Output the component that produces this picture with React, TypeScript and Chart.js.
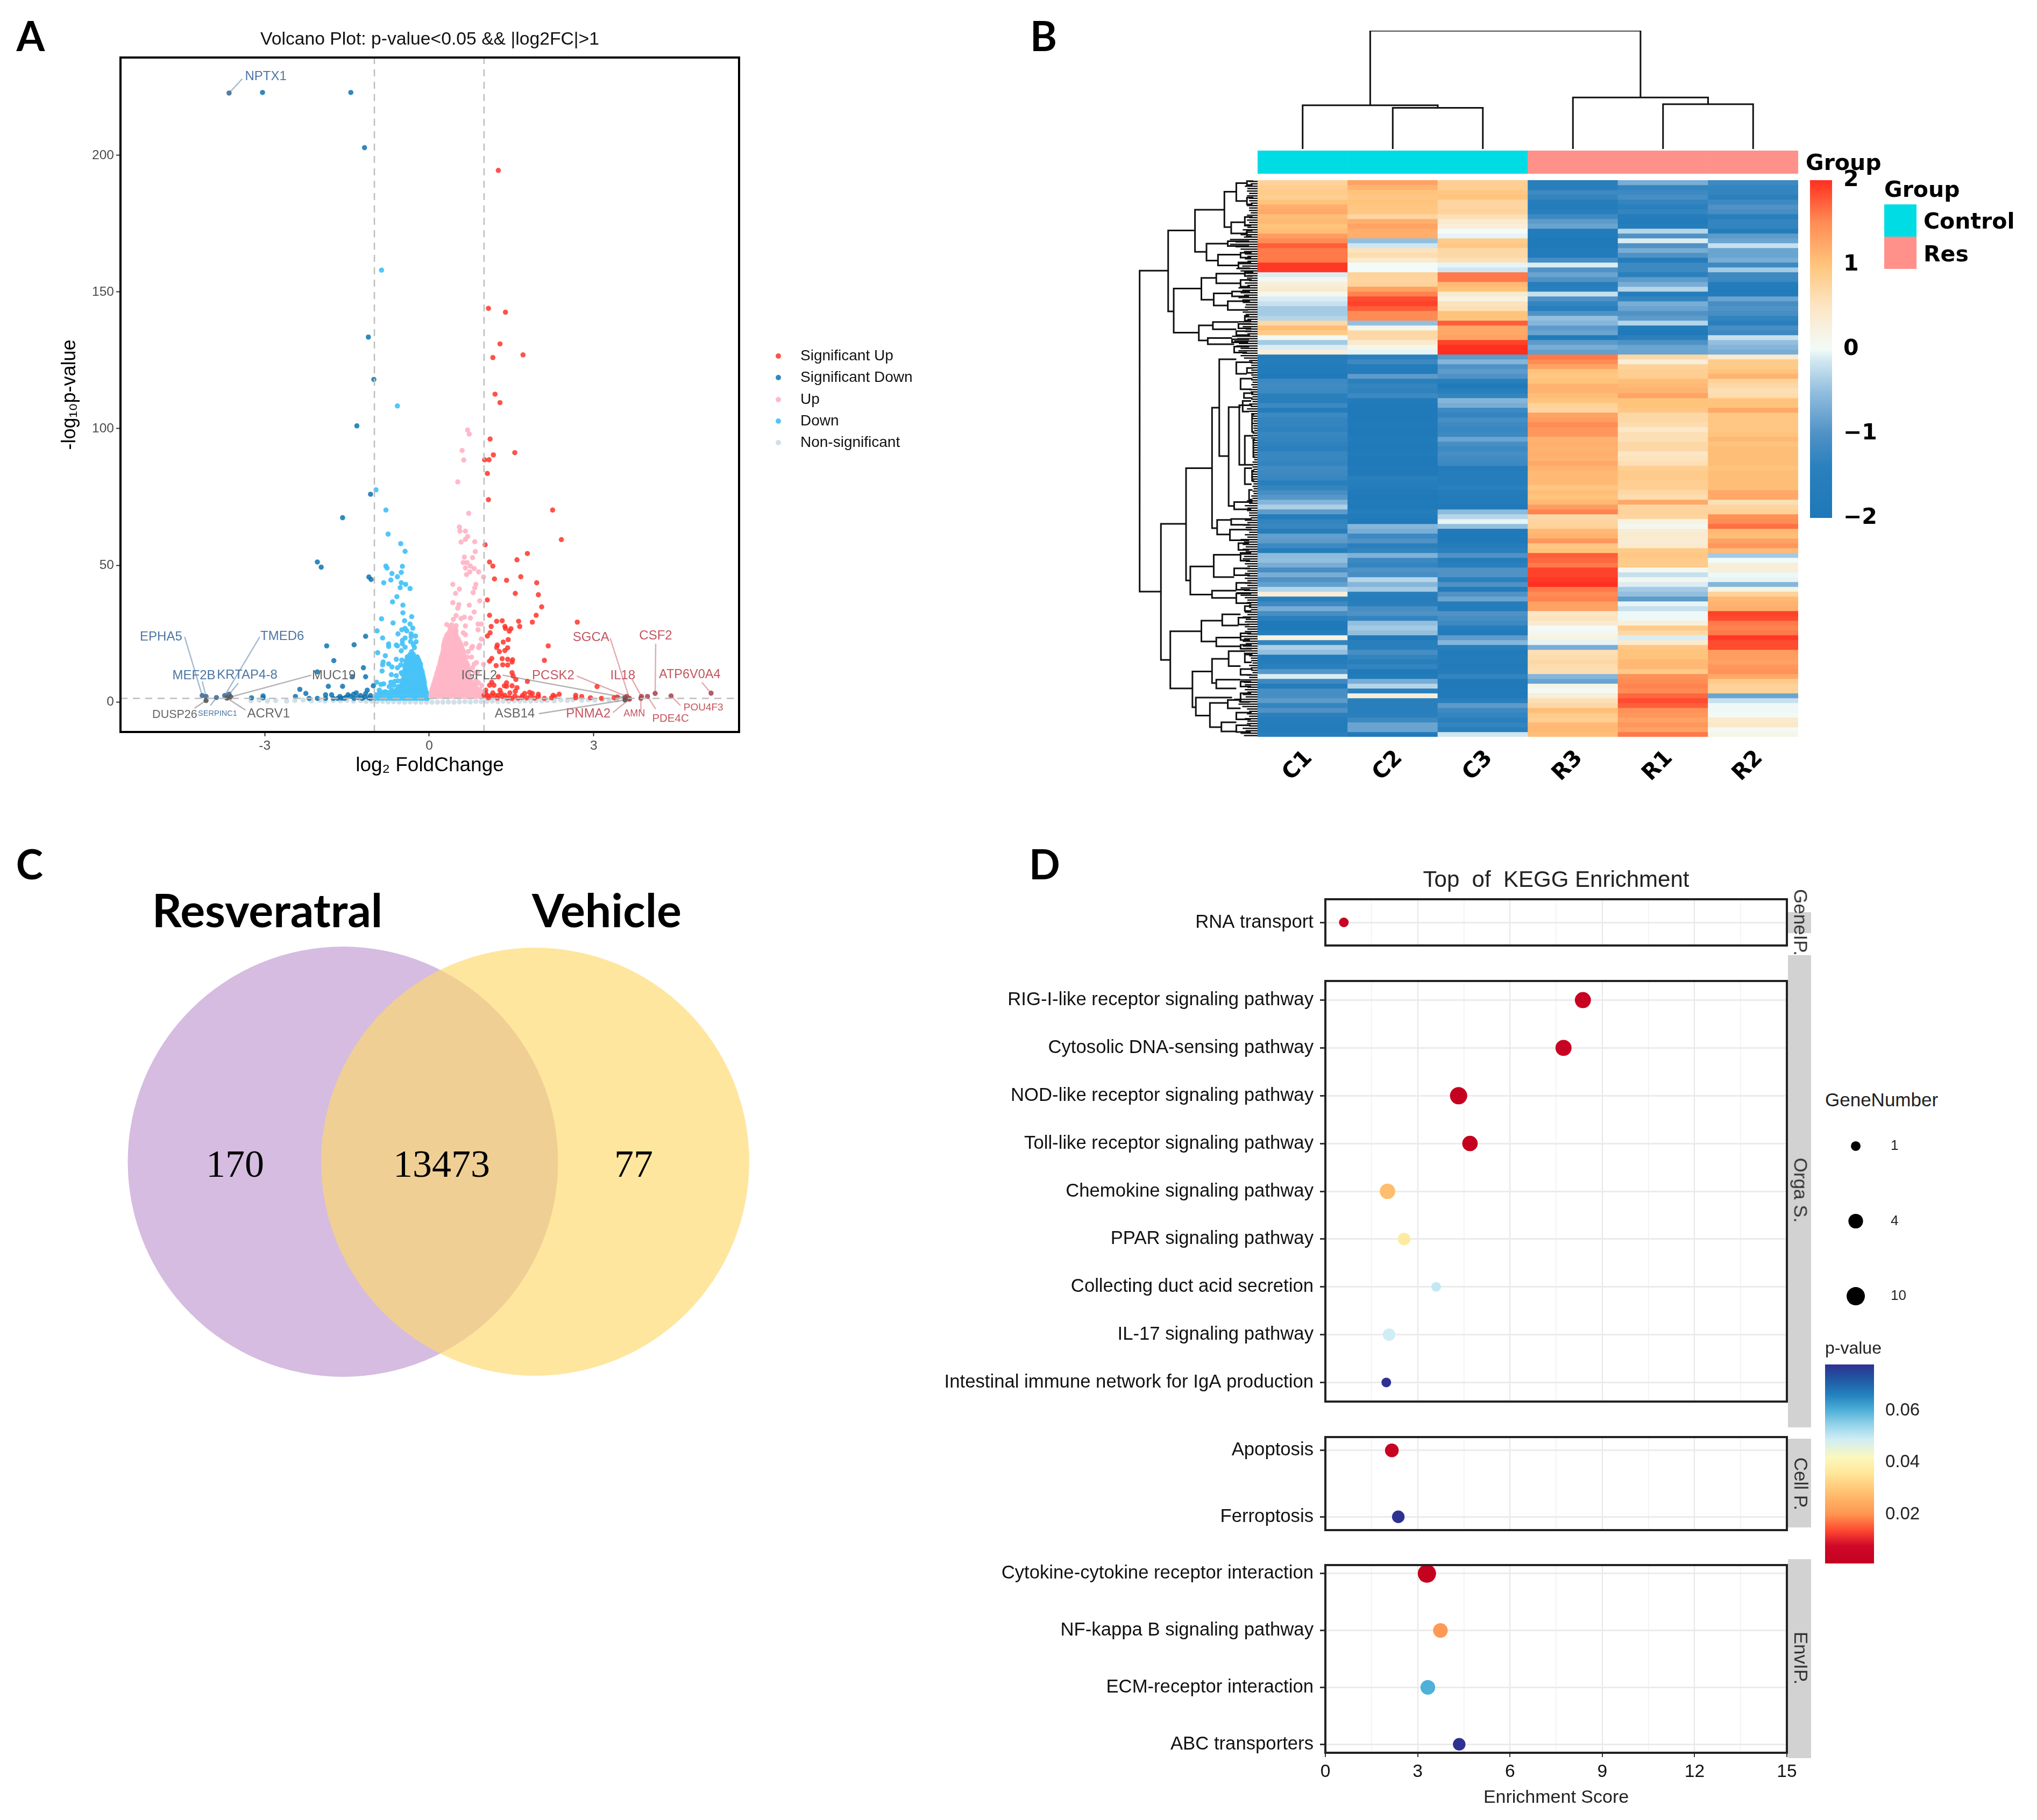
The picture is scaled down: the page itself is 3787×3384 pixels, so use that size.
import React, { useEffect, useRef } from "react";
import { Chart, registerables } from "chart.js";
Chart.register(...registerables);

const SANS = "'Liberation Sans', Arial, sans-serif";
const DEJA = "'DejaVu Sans', sans-serif";

/* ---------- Panel A: volcano ---------- */
const volcanoXTicks = [-3, 0, 3];
const volcanoYTicks = [0, 50, 100, 150, 200];
const sigDown = [[-3.04,223],[-1.43,223],[-1.18,202.8],[-1.11,133.5],[-1.01,118],[-1.32,101],[-1.07,76],[-1.58,67.4],[-2.04,51.2],[-1.97,49.3],[-1.10,45.7],[-1.06,44.8],[-1.16,24],[-1.37,20.9],[-1.87,20.5],[-1.74,15.1],[-2.04,11],[-1.2,12.5],[-1.16,9.2],[-1.84,5.7],[-1.58,5.7],[-1.4,9.2],[-2.36,4.6],[-2.25,3.1],[-2.44,2],[-3.24,1.5],[-3.03,2.2],[-3.03,1.5],[-2.19,1.3],[-2.04,1.3],[-1.89,2.6],[-1.89,1.3],[-1.78,2.6],[-1.75,1.3],[-1.63,2],[-1.48,2.6],[-1.38,2.8],[-1.33,3.3],[-1.25,2.3],[-1.13,4.3],[-1.16,3],[-1.07,2.3],[-1.02,5.9],[-1.55,1.3],[-1.37,1.3],[-1.22,1.3],[-1.07,1.3],[-1.67,1.3],[-1.44,2],[-1.3,1.6],[-1.18,1.8],[-1.1,1.5],[-1.52,1.7],[-1.6,1.4]];
const down = [[-.87,158],[-.58,108.3],[-.97,77.6],[-.79,70.2],[-.75,61.4],[-.52,57.9],[-.44,55.1],[-.79,49.7],[-.77,49],[-.49,49.6],[-.51,47.4],[-.68,47],[-.58,45.8],[-.70,44.6],[-.83,43.6],[-.51,43.6],[-.43,43],[-.53,41.8],[-.35,41.5],[-.59,38.5],[-.67,36.6],[-.48,35.4],[-.48,32.6],[-.32,31.2],[-.87,30.4],[-.45,29.7],[-.66,28.9],[-.35,28.5],[-.30,27],[-.44,26.9],[-.50,26.4],[-.41,26],[-.95,26],[-.57,24.9],[-.33,24.9],[-.25,24.1],[-.33,23.8],[-.85,23.4],[-.44,23.4],[-.49,22.5],[-.34,22.1],[-.24,22],[-.74,21.2],[-.60,20.8],[-.58,20.5],[-.49,21.3],[-.29,21],[-.74,20.3],[-.44,20],[-.27,19.9],[-.51,18.7],[-.94,18],[-.32,18.4],[-.80,16.9],[-.35,17.4],[-.29,17.4],[-.60,15.6],[-.50,15.3],[-.84,14.6],[-.85,13.6],[-.74,13.9],[-.52,13.5],[-.68,12.8],[-.58,12.5],[-.86,11.3],[-.51,10.7],[-.60,9.6],[-.69,10],[-.49,10.2],[-.96,7.2],[-.70,7.2],[-.63,7.5],[-.57,7.7],[-.49,7.9],[-.42,7.9],[-.88,6.4],[-.83,6.6],[-.73,5.6],[-.65,6.1],[-.57,5.6],[-.50,5.9],[-.91,4.3],[-.80,3.7],[-.68,4.3],[-.60,4.3],[-.52,4.6]];
const downCoreRows = [
  [16.5,[-.40,-.34,-.28,-.22]],[15.9,[-.39,-.33,-.27,-.21]],[15.2,[-.42,-.36,-.30,-.24,-.19]],[14.5,[-.41,-.35,-.29,-.23,-.18]],[13.9,[-.43,-.37,-.31,-.25,-.19,-.16]],[13,[-.44,-.40,-.34,-.28,-.22,-.16]],
  [12.2,[-.44,-.38,-.32,-.26,-.20,-.15]],[11.2,[-.45,-.41,-.35,-.29,-.23,-.17,-.13]],[10.2,[-.45,-.39,-.33,-.27,-.21,-.15,-.12]],[9.2,[-.46,-.42,-.36,-.30,-.24,-.18,-.12,-.11]],[8.3,[-.46,-.40,-.34,-.28,-.22,-.16,-.10]],[7.3,[-.48,-.43,-.37,-.31,-.25,-.19,-.13,-.09]],
  [6.4,[-.50,-.44,-.38,-.32,-.26,-.20,-.14,-.09]],[5.4,[-.52,-.47,-.41,-.35,-.29,-.23,-.17,-.11,-.08]],[4.5,[-.54,-.48,-.42,-.36,-.30,-.24,-.18,-.12,-.07]],[3.5,[-.90,-.84,-.78,-.72,-.66,-.60,-.54,-.48,-.42,-.36,-.30,-.24,-.18,-.12,-.07,-.05]],
  [2.6,[-.97,-.90,-.83,-.76,-.70,-.64,-.58,-.52,-.46,-.40,-.34,-.28,-.22,-.16,-.10,-.05]],
  [1.3,[-.99,-.92,-.85,-.78,-.71,-.65,-.59,-.53,-.47,-.41,-.35,-.29,-.23,-.17,-.11,-.06,-.03]],
];
const up = [[.66,59.5],[.83,58.6],[.84,55],[.64,53],[.79,52.8],[.62,51],[.69,51],[.75,49.7],[.66,49],[.82,48.8],[.90,47.6],[.74,47.6],[.68,46.6],[.99,45.7],[.43,43],[.85,43],[.83,41.7],[.55,41.3],[.48,39.7],[.80,40],[.92,37],[.43,36.3],[.54,35.6],[.73,35.4],[.52,34.3],[.82,32.9],[.49,31.6],[.64,31],[.58,30.5],[.75,30.7],[.44,30.2],[.32,28.3],[.41,28.2],[.66,27.8],[.89,28.5],[.95,28.5],[.49,27.9],[.38,27.2],[.48,26.2],[.89,26.4],[.62,25.3],[.66,24.6],[.32,24.3],[.95,23],[.41,24.3],[.67,21.3],[.79,20.3],[.92,20.7],[.77,19.7],[.90,19.9],[.57,20.7],[.62,18.6],[.71,18.4],[.77,16.4],[.69,16.4],[.99,13.8],[.86,14.4],[.82,13.8],[.79,12.5],[.88,11],[.84,10.7],[.72,11.8],[.70,99.5],[.73,98],[.60,92],[.63,88.5],[.52,80.5],[.72,69],[.55,64],[.56,62.5],[.66,62.5],[.70,60.5],[.58,58.5],[.96,6],[.90,7],[.82,6.5],[.92,4.5],[.85,8]];
const upCoreRows = [
  [26.6,[.40,.44,.48]],[25.7,[.37,.41,.46,.49]],[24.9,[.34,.39,.44,.48]],[24,[.32,.36,.41,.46,.50]],[23,[.29,.34,.39,.44,.49,.53]],[22.1,[.28,.32,.37,.42,.47,.52,.55]],[21.3,[.27,.32,.37,.42,.47,.52,.57]],[20.3,[.26,.30,.35,.40,.45,.50,.55,.59]],
  [19.4,[.26,.31,.36,.41,.46,.51,.56,.60]],[18.4,[.25,.29,.34,.39,.44,.49,.54,.59,.62]],[17.4,[.24,.29,.34,.39,.44,.49,.54,.59,.63]],[16.4,[.22,.27,.32,.37,.42,.47,.52,.57,.62]],[15.4,[.21,.26,.31,.36,.41,.46,.51,.56,.61,.65]],[14.4,[.20,.25,.30,.35,.40,.45,.50,.55,.60,.65,.68]],
  [13.5,[.19,.24,.29,.34,.39,.44,.49,.54,.59,.64,.70]],[12.5,[.17,.23,.29,.35,.41,.47,.53,.59,.65,.70]],[11.5,[.16,.22,.28,.34,.40,.46,.52,.58,.64,.71]],[10.5,[.14,.20,.26,.32,.38,.44,.50,.56,.62,.68,.72]],
  [9.5,[.13,.19,.25,.31,.37,.43,.49,.55,.61,.67,.73]],[8.5,[.11,.17,.23,.29,.35,.41,.47,.53,.59,.65,.71,.75]],[7.5,[.10,.16,.22,.28,.34,.40,.46,.52,.58,.64,.70,.76]],[6.5,[.08,.14,.20,.26,.32,.38,.44,.50,.56,.62,.68,.74,.79]],
  [5.6,[.07,.13,.19,.25,.31,.37,.43,.49,.55,.61,.67,.73,.79,.85]],[4.6,[.05,.11,.17,.23,.29,.35,.41,.47,.53,.59,.65,.71,.77,.83,.88]],[3.6,[.04,.10,.16,.22,.28,.34,.40,.46,.52,.58,.64,.70,.76,.82,.88,.94,.97]],[2.8,[.04,.07,.13,.19,.25,.31,.37,.43,.49,.55,.61,.67,.73,.79,.85,.91,.97]],
  [2,[.03,.09,.15,.21,.27,.33,.39,.45,.51,.57,.63,.69,.75,.81,.87,.93,.98]],
];
const sigUp = [[1.26,194.5],[1.08,144],[1.39,142.6],[1.29,131],[1.71,127],[1.16,126],[1.2,112.6],[1.29,109.5],[1.11,96.2],[1.17,90.4],[1.56,91.2],[1.01,88.6],[1.09,88.6],[1.06,83.6],[1.08,74],[2.25,70.2],[2.41,59.4],[1.02,57.5],[1.79,54.3],[1.60,52],[1.10,51.2],[1.16,49.7],[1.67,45.8],[1.19,45],[1.41,44.5],[1.96,43.6],[1.57,39.7],[1.99,39.2],[1.06,37.3],[2.05,34.8],[1.95,31.7],[1.10,31.7],[1.23,29.5],[1.33,29.7],[1.63,29.5],[1.88,29.2],[1.13,27.6],[1.65,27.6],[1.38,27.6],[1.39,26.9],[1.49,26.8],[1.46,25.9],[1.11,25.3],[1.06,24.1],[2.70,29.2],[1.44,22.8],[1.35,21.9],[1.24,20.8],[2.17,20.5],[1.23,19.9],[1.43,19.8],[1.38,18.8],[1.28,18.4],[1.14,15.9],[1.10,14.9],[1.33,15.8],[1.43,15.6],[1.52,15.4],[1.51,14.6],[2.10,15.2],[1.22,13.3],[1.34,13.6],[1.43,13.5],[1.51,10.7],[1.53,9.5],[1.26,9.2],[1.58,8.2],[1.79,7.5],[1.14,7.2],[1.41,7],[3.06,5.6],[1.10,6.1],[1.18,6.1],[1.37,5.9],[1.41,5.7],[1.51,5.9],[1.60,5.2],[1.03,4.3],[1.29,4.3],[1.47,3.3],[1.57,3.9],[1.83,3.5],[1.99,2.8],[2.37,2.8],[2.26,2.4],[1.88,3.1],[1.0,2.4],[1.06,2.3],[1.13,2.3],[1.2,2.3],[1.26,2.4],[1.33,2],[1.46,1.6],[1.51,1.3],[1.69,1.6],[1.70,2.3],[1.74,3.1],[1.85,2],[1.99,2],[2.10,1.3],[2.23,1.5],[2.29,2],[2.67,2.4],[2.67,1.5],[2.78,2],[2.94,1.5],[3.14,1.3],[3.37,1.5],[3.43,1.8],[1.03,3.2],[1.08,1.5],[1.16,3.3],[1.24,1.4],[1.31,3.2],[1.38,2.4],[1.42,1.4],[1.56,2.2],[1.62,1.4],[1.78,1.5],[1.92,1.4]];
const nonSig = [[-3.25,.4],[-3.1,.6],[-2.95,.3],[-2.8,.5],[-2.6,.3],[-2.45,.5],[-2.3,.7],[-2.15,.4],[-2,.6],[-1.9,.3],[-1.75,.5],[-1.62,.4],[-1.5,.6],[-1.38,.3],[-1.25,.5],[-1.15,.2],[-1.05,.3],[-.95,.1],[-.85,.2],[-.75,0],[-.65,.1],[-.55,0],[-.45,-.1],[-.35,0],[-.25,-.1],[-.15,-.1],[-.05,-.1],[.05,-.1],[.15,-.1],[.25,-.1],[.35,0],[.45,-.1],[.55,0],[.65,.1],[.75,0],[.85,.2],[.95,.1],[1.05,.2],[1.15,.3],[1.25,.2],[1.35,.3],[1.45,.2],[1.55,.4],[1.65,.3],[1.75,.4],[1.85,.3],[1.95,.5],[2.05,.4],[2.15,.5],[2.28,.4],[2.4,.7],[2.52,.5],[2.62,.8],[2.78,.6],[2.9,.8],[3.02,.6],[3.16,.9],[3.28,.7],[3.42,.8]];
const B = "#4C76A3", R = "#C4555F", G = "#666666";
const geneLabels = [
  { t:"NPTX1", c:B, s:24, x:-2.98, y:228.8, sx:-3.41, sy:228, px:-3.65, py:222.8 },
  { t:"EPHA5", c:B, s:24, x:-4.89, y:23.8, sx:-4.46, sy:23.8, px:-4.14, py:2.3 },
  { t:"TMED6", c:B, s:24, x:-2.68, y:24, sx:-3.09, sy:23.8, px:-3.73, py:2.3 },
  { t:"MEF2B", c:B, s:24, x:-4.29, y:9.6, sx:-4.14, sy:7.5, px:-4.07, py:2 },
  { t:"KRTAP4-8", c:B, s:24, x:-3.32, y:9.8, sx:-3.48, sy:6.9, px:-3.65, py:2.8 },
  { t:"SERPINC1", c:B, s:14.6, x:-3.86, y:-4.4, sx:-3.99, sy:-1.3, px:-3.88, py:1.6 },
  { t:"DUSP26", c:G, s:21.5, x:-4.64, y:-4.8, sx:-4.28, sy:-2.3, px:-4.07, py:.5 },
  { t:"ACRV1", c:G, s:24, x:-2.93, y:-4.4, sx:-3.35, sy:-3, px:-3.69, py:1.4 },
  { t:"MUC19", c:G, s:24, x:-1.74, y:9.6, sx:-2.15, sy:9.8, px:-3.62, py:1.8 },
  { t:"IGFL2", c:G, s:24, x:.91, y:9.6, sx:1.34, sy:9.8, px:3.57, py:1.6 },
  { t:"ASB14", c:G, s:24, x:1.56, y:-4.4, sx:2, sy:-4.3, px:3.57, py:.7 },
  { t:"PCSK2", c:R, s:24, x:2.26, y:9.5, sx:2.69, sy:9.5, px:3.6, py:2 },
  { t:"SGCA", c:R, s:24, x:2.95, y:23.6, sx:3.3, sy:23.3, px:3.65, py:1.3 },
  { t:"CSF2", c:R, s:24, x:4.13, y:24.1, sx:4.13, sy:21.3, px:4.12, py:3.1 },
  { t:"IL18", c:R, s:24, x:3.53, y:9.5, sx:3.7, sy:8.2, px:3.87, py:2 },
  { t:"ATP6V0A4", c:R, s:23.5, x:4.75, y:10, sx:4.97, sy:7.2, px:5.14, py:3.2 },
  { t:"PNMA2", c:R, s:24, x:2.9, y:-4.4, sx:3.35, sy:-3.9, px:3.65, py:1 },
  { t:"AMN", c:R, s:18, x:3.74, y:-4.3, sx:3.86, sy:-3.3, px:3.86, py:1.3 },
  { t:"PDE4C", c:R, s:20.5, x:4.4, y:-6.1, sx:4.13, sy:-2.6, px:3.98, py:2 },
  { t:"POU4F3", c:R, s:19, x:5.0, y:-2, sx:4.58, sy:-1.3, px:4.41, py:2.2 },
];
const volcanoLegend = ["Significant Up", "Significant Down", "Up", "Down", "Non-significant"];
const volcanoColors = ["rgba(255,52,42,0.85)", "rgba(15,115,175,0.85)", "rgba(255,182,198,0.95)", "rgba(72,195,248,0.95)", "rgba(205,220,228,0.9)"];

/* ---------- Panel B: heatmap ---------- */
const sampleLabels = ["C1", "C2", "C3", "R3", "R1", "R2"];
const sampleGroups = ["Control", "Control", "Control", "Res", "Res", "Res"];
const groupColors = { Control: "#00DCE3", Res: "#FF918A" };
const C1 = [.8,.85,.9,.85,1,1.2,1.25,1.05,1.1,1,1.05,1.35,1.5,1.75,1.6,1.6,1.6,1.95,1.95,-.1,.1,.3,.4,.1,-.1,-.2,-.4,-.4,-.3,.7,1.05,.9,.05,-.4,-.1,.3,
  -1.8,-1.6,-1.8,-1.8,
  -1.9,-1.2,-1.15,-1.2,-1.4,-1.45,-1.2,-1.7,-1.2,-1.3,-1.3,-1.35,-1.25,-1.3,-1.35,-1.4,-1.25,-1.25,-1.3,-1.15,-1.2,-1.25,-1.5,-1.3,-1.1,-.95,-.6,-.35,-.9,-1.7,-1.3,-1.25,-1.6,-.85,-.9,-1.2,-1.6,-.55,
  -.5,-.7,-1.1,-.7,-1,-.85,-.3,.3,-1.5,-1.2,-.7,-1.1,-1.4,-1.9,-1.9,-1.6,.2,-1.3,-.35,-.5,-1.8,-1.6,-1.4,-.95,-.1,-1.2,-1.7,-1.1,-1.1,-.9,-1.3,-1,-1.4,-1.6,-1.7,-1.7,-1.5];
const C2 = [1.3,1.15,1,.95,1,.95,.95,.75,1.2,1.3,1.2,1.2,-.5,-.15,.55,.65,.4,0,0,.8,.75,.8,1.3,1.55,1.85,1.9,1.75,1.5,1.5,-.5,.1,.7,.7,.4,.15,-.05,
  -1.4,-1.2,-1.7,-1.7,
  -.9,-1.4,-1.3,-1.35,-1.2,-1.8,-1.9,-1.9,-1.9,-1.9,-1.85,-1.9,-1.9,-1.8,-1.85,-1.9,-1.8,-1.9,-1.9,-1.85,-1.9,-1.5,-1.55,-1.7,-1.85,-1.9,-1.85,-1.9,-1.6,-1.8,-1.9,-.6,-.7,-1.2,-1,-1.4,-1.3,-.65,
  -1.2,-1.3,-1,-1.1,-.3,-.6,-.4,-1.5,-1.6,-1.5,-1.1,-1,-1.3,-.5,-.4,-.5,-1.9,-1.5,-1.5,-1.1,-1.3,-1.5,-1.3,-1.9,-1.8,-.7,-.3,-1.4,.3,-1.5,-1.5,-1.5,-1.4,-1.2,-.8,-.8,-1.85];
const C3 = [.85,.85,.95,1,.75,.75,.8,.6,.4,.3,0,-.05,.9,.95,.7,.7,.6,-.05,-.15,1.6,1.6,1.1,1,.4,.2,.55,.6,1,1,1.75,1.25,1.25,1.3,1.9,2,2,
  -.9,-.6,-1,-.9,
  -1,-1.5,-1.9,-1.5,-1.3,-.6,-.7,-1.2,-1.3,-1.1,-1.2,-1.25,-1.2,-.8,-1.1,-1.2,-1.1,-1.15,-1.2,-1.7,-1.6,-1.6,-1.6,-1.4,-1.7,-1.75,-1.8,-1.9,-.55,-.3,-.05,-.5,-1.9,-1.9,-1.9,-1.6,-1.4,-1,
  -1.7,-1.4,-1,-1,-1.4,-1,-1.7,-1,-.8,-1.6,-1.7,-1,-1.1,-1.2,-1.6,-1.8,-.9,-.6,-1.5,-1.8,-1.7,-1.7,-1.8,-1.7,-1.3,-1.9,-1.9,-1.85,-1.85,-1.4,-.9,-1.2,-1.3,-1.4,-1.3,-1.5,-.15];
const R3 = [-1.5,-1.5,-1.2,-1.3,-1.6,-1.7,-1.5,-1.2,-.9,-.8,-1.8,-1.8,-1.9,-1.9,-1.8,-1.8,-1.1,-.1,-1,-.8,-1,-1.6,-1.4,-.2,-1,-1.3,-1.5,-1,-.5,-.6,-.9,-.8,-1.8,-.9,-.7,-.85,
  1.6,1.5,1.3,1,
  .95,1,1.15,1.15,1.05,1,.8,.75,1.3,1.35,1.5,1.4,1.4,1.15,1.2,1.15,1.2,1.15,1.25,1.15,1.1,1.1,1.1,.95,1.05,1,1.1,1.35,1.55,.7,.75,.8,1.1,1.15,1.4,.95,1,1.75,
  1.7,1.6,1.9,1.9,1.95,2,1.6,1.5,1.55,1.3,1.3,.5,.55,.4,0,.1,.2,-.05,-.7,.6,.65,.7,.65,.6,-.6,-.8,.15,.05,.3,.6,.7,1.05,.9,.85,1.1,1.1,1.05];
const R1 = [-.7,-1.3,-1.2,-1.1,-1.3,-1.4,-1.3,-1.6,-1.8,-1.6,-.3,-1,-.1,-1,-.7,-1,-1.7,-1.2,-1.2,-1.4,-.9,-.7,-.3,-1.6,-1.3,-.7,-.8,-1,-.9,-.3,-1.8,-1.9,-1.4,-1,-.8,-.8,
  .7,.3,.8,.85,
  .85,1.05,1.1,1.15,1.3,1,1,.95,.7,.7,.65,.45,.6,.6,.7,.7,.5,.55,.6,.85,.9,.9,.85,.85,.7,.65,1.25,.75,.8,.75,.2,.1,.35,.4,.35,.4,.9,.95,
  .9,.9,.1,-.2,.1,-.1,-.4,-.5,-.9,-.05,-.2,-.02,-.02,.3,.9,.7,-.1,.4,.95,1,1,1.1,1.1,.9,1.45,1.5,1.55,1.5,1.7,1.85,1.75,1.45,1.4,1.3,1.4,1.3,1.6];
const R2 = [-1.2,-1.3,-1.3,-1.4,-1.2,-1,-1.1,-1.5,-1.3,-1.3,-1.7,-.9,-.8,-.2,-.8,-.8,-.7,-1.2,-.4,-1.2,-1.2,-1.7,-1.8,-1.7,-.8,-1.1,-1,-1.1,-1.3,-1.5,-1.1,-1.2,-.2,-.5,-.6,-.7,
  .4,.9,.9,1,
  1.15,.8,.7,.6,.65,1,1,1.25,.95,.95,.95,.95,1,1.1,1,1.05,1.05,1.05,1.05,1,1.05,1.05,1.05,1.05,1.25,1.25,.6,.75,.8,1.45,1.5,1.65,1.1,1.05,1.3,1.4,1.1,-.4,
  0,.3,.3,-.02,-.05,-.6,.2,.8,1.1,1.15,1.2,1.9,1.85,1.6,1.55,1.6,1.95,1.85,1.85,1.35,1.35,1.3,1.4,1.45,1.25,.9,.8,.8,-.8,-.2,-.02,-.02,.05,.4,.45,.05,.15];
const heatColumns = [C1, C2, C3, R3, R1, R2];
const heatStops = [[-2,"#1E78B8"],[-1.4,"#2A80BD"],[-1,"#4F92C6"],[-.5,"#93BFDF"],[-.15,"#CFE6F0"],[0,"#F2FBF8"],[.5,"#FCE6C4"],[1,"#FFC47C"],[1.5,"#FF8C54"],[2,"#FF2F20"]];
const heatTicks = [-2, -1, 0, 1, 2];
const colTree = [[.5,0,2,80,85],[1.5,0,2.5,0,80],[3.5,0,5,87,100],[4.5,0,5.5,0,87],[1.25,85,4.25,100,230]];
/* row dendrogram: [rowA, childHeightA, rowB, childHeightB, height] */
const rowTree = [
  [18.7,210,85,227,277],[10.4,147,27.1,197,210],[6.1,78,14.8,120,147],[2.4,50,9.7,62,78],[.6,25,4.3,25,50],[8.7,30,11,25,62],[13.1,70,16.6,93,120],[12.6,20,13.6,20,70],[15.4,40,17.6,45,93],
  [22.4,132,31.5,138,197],[20.2,97,24.7,103,132],[19.3,30,21.3,40,97],[23.4,60,25.9,70,103],[30,105,33.1,117,138],[29.3,45,30.8,50,105],[32.6,60,33.9,55,117],
  [71,168,99.1,205,227],[59.5,107,82.7,158,168],[47,90,71.9,95,107],[37,50,57,68,90],[46.9,40,67.3,55,68],[70.2,62,73.2,65,95],[79.8,103,85.6,107,158],[77.4,40,82,55,103],[84.8,50,86.3,50,107],
  [93.2,132,105,153,205],[91,83,95.3,97,132],[89.7,40,92,45,83],[94.5,40,96.3,40,97],[101.5,107,108.9,145,153],[98.9,68,103.9,97,107],[97.3,30,100.4,40,68],[103.2,40,105,50,97],[106.9,60,110.6,112,145],[108,70,113,85,112],[107.4,40,109.1,40,70],[112,50,113.9,50,85],
  [.2,10,1,12,25],[3.6,10,5,12,25],[7.6,12,9.4,15,30],[10.4,12,11.6,14,25],[15,14,16,15,40],[17,15,18.2,18,45],[19,10,19.8,12,30],[20.6,14,22,18,40],[23,18,24,20,60],[25,18,26.8,22,70],[28,20,29,15,30],[29.7,15,30.6,15,45],[31.2,15,32,18,50],[32.9,20,33.5,22,60],[34.4,20,35.6,25,55],
  [37.6,12,40,25,50],[38.8,10,39.8,10,25],[41,12,43.2,14,40],[44,10,45,12,32],[45.6,15,47.8,20,35],[46.5,13,58.8,30,43],[48.4,8,52,8,13],[52.8,10,58.8,10,30],[53.6,6,57.2,6,10],[59.5,13,62.8,14,30],[60,8,62.1,8,13],[64,12,66,12,20],[66.5,12,68,15,55],[70,14,71.2,18,62],[72.2,14,74.4,20,65],[75,20,76.4,20,45],
  [77,15,78.6,18,40],[80.2,18,81.6,18,55],[83.2,15,84.6,18,50],[85.4,15,87.4,15,50],[88,15,89,15,30],[90.4,16,91.8,20,45],[93.6,15,95,18,40],[96,14,96.8,14,40],[98,12,99.6,14,30],[101,12,102.2,14,40],[103.6,15,104.6,15,40],[106,15,107.8,18,40],[110,14,111.4,16,50],[112.6,16,114,16,50],
];
const leafReach = [20,30,25,25,20,25,20,25,25,30,35,40,65,65,40,30,30,45,50,30,25,30,45,40,45,35,30,35,30,45,35,30,60,55,50,45,40,20,15,15,15,15,15,20,15,15,20,25,15,12,12,10,12,15,10,10,10,10,12,12,15,15,12,12,12,15,25,30,25,20,30,35,25,30,40,35,35,40,35,30,30,30,30,30,40,50,30,25,20,30,35,30,30,30,40,35,35,40,20,15,20,15,25,40,30,30,35,55,45,25,25,30,25,35,40];

/* ---------- Panel C: Venn ---------- */
const vennSets = ["Resveratral", "Vehicle"];
const vennCounts = [170, 13473, 77];

/* ---------- Panel D: KEGG ---------- */
const keggXTicks = [0, 1.5, 3, 4.5, 6, 7.5, 9, 10.5, 12, 13.5, 15];
const geneIPTerms = ["RNA transport"];
const geneIPScore = [0.6]; const geneIPP = [0.004]; const geneIPCount = [1];
const orgaTerms = ["RIG-I-like receptor signaling pathway","Cytosolic DNA-sensing pathway","NOD-like receptor signaling pathway","Toll-like receptor signaling pathway","Chemokine signaling pathway","PPAR signaling pathway","Collecting duct acid secretion","IL-17 signaling pathway","Intestinal immune network for IgA production"];
const orgaScore = [8.37,7.74,4.33,4.7,2.02,2.56,3.6,2.07,1.98];
const orgaP = [.003,.003,.002,.002,.028,.037,.05,.049,.078];
const orgaCount = [6,6,8,5,5,2,1,2,1];
const cellTerms = ["Apoptosis","Ferroptosis"];
const cellScore = [2.16,2.37]; const cellP = [.003,.078]; const cellCount = [3,2];
const envTerms = ["Cytokine-cytokine receptor interaction","NF-kappa B signaling pathway","ECM-receptor interaction","ABC transporters"];
const envScore = [3.3,3.74,3.33,4.35]; const envP = [.002,.021,.06,.078]; const envCount = [10,4,4,2];
const legendGenes = [1, 4, 10];
const pTicks = [0.02, 0.04, 0.06];
const pStops = [[.0012,"#C4001F"],[.008,"#D0082A"],[.014,"#FF4A30"],[.02,"#FF9450"],[.028,"#FFBE6E"],[.036,"#FFE79A"],[.042,"#FBF8BC"],[.049,"#CFEDF5"],[.055,"#8ED0E8"],[.06,"#4FB0D8"],[.066,"#2381BE"],[.072,"#2058A4"],[.0777,"#2E3192"]];

/* ---------- helpers ---------- */
function hex(c) { return [parseInt(c.slice(1,3),16), parseInt(c.slice(3,5),16), parseInt(c.slice(5,7),16)]; }
function cmap(stops, v) {
  if (v <= stops[0][0]) return stops[0][1];
  for (let i = 1; i < stops.length; i++) {
    if (v <= stops[i][0]) {
      const t = (v - stops[i-1][0]) / (stops[i][0] - stops[i-1][0]);
      const a = hex(stops[i-1][1]), b = hex(stops[i][1]);
      return `rgb(${a.map((p, k) => Math.round(p + (b[k]-p)*t)).join(",")})`;
    }
  }
  return stops[stops.length-1][1];
}
const pts = (a) => a.map(([x, y]) => ({ x, y }));
const rows = (r) => r.flatMap(([y, xs]) => xs.map((x) => ({ x, y })));
const geneRadius = (g) => 9 + 8 * Math.sqrt((g - 1) / 9);
const base = { responsive: false, devicePixelRatio: 1, animation: false, events: [] };
const noPlug = { legend: { display: false }, tooltip: { enabled: false } };

function layoutOf(rect, plot, yW = 0, xH = 0, titleH = 0) {
  return { autoPadding: false, padding: {
    left: plot.l - rect.x - yW, right: rect.x + rect.w - plot.r,
    top: plot.t - rect.y - titleH, bottom: rect.y + rect.h - plot.b - xH } };
}
const boxPlugin = (color, width) => ({
  id: "panelBox",
  afterDatasetsDraw(chart) {
    const { ctx, chartArea: a } = chart;
    ctx.save(); ctx.strokeStyle = color; ctx.lineWidth = width;
    ctx.strokeRect(a.left, a.top, a.right - a.left, a.bottom - a.top); ctx.restore();
  },
});
const gradient = (stops, min, max) => (c) => {
  const a = c.chart.chartArea; if (!a) return "#ccc";
  const g = c.chart.ctx.createLinearGradient(0, a.bottom, 0, a.top);
  stops.forEach(([v, col]) => g.addColorStop((v - min) / (max - min), col));
  return g;
};

/* ---------- chart configs ---------- */
const aRect = { x: 100, y: 40, w: 1660, h: 1440 };
const aPlot = { l: 224, t: 107, r: 1374, b: 1361 };
const AX = { min: -5.63, max: 5.65 }, AY = { min: -11, max: 235.8 };
const dash = (data) => ({ data, showLine: true, pointRadius: 0, borderColor: "#BDBDBD", borderWidth: 2.5, borderDash: [13, 10], label: "" });
const dot = (label, i, data) => ({ label, data, showLine: false, pointRadius: 4.8, pointBorderWidth: 0, pointBackgroundColor: volcanoColors[i], backgroundColor: volcanoColors[i] });
const volcanoLabels = {
  id: "volcanoLabels",
  afterDatasetsDraw(chart) {
    const { ctx, scales: { x, y } } = chart;
    ctx.save();
    geneLabels.forEach((g) => {
      ctx.globalAlpha = 0.5; ctx.strokeStyle = g.c; ctx.lineWidth = 2.4;
      ctx.beginPath(); ctx.moveTo(x.getPixelForValue(g.sx), y.getPixelForValue(g.sy));
      ctx.lineTo(x.getPixelForValue(g.px), y.getPixelForValue(g.py)); ctx.stroke();
      ctx.globalAlpha = 1; ctx.fillStyle = g.c; ctx.font = `${g.s}px ${SANS}`;
      ctx.textAlign = "center"; ctx.textBaseline = "middle";
      ctx.fillText(g.t, x.getPixelForValue(g.x), y.getPixelForValue(g.y));
    });
    const ys = [662, 702, 743, 783, 823];
    volcanoLegend.forEach((t, i) => {
      ctx.fillStyle = volcanoColors[i];
      ctx.beginPath(); ctx.arc(1447 - aRect.x, ys[i] - aRect.y, 5, 0, Math.PI * 2); ctx.fill();
      ctx.fillStyle = "#111"; ctx.font = `28px ${SANS}`; ctx.textAlign = "left"; ctx.textBaseline = "middle";
      ctx.fillText(t, 1488 - aRect.x, ys[i] - aRect.y);
    });
    ctx.restore();
  },
};
const volcanoConfig = {
  type: "scatter",
  data: { datasets: [
    dash([{ x: -1, y: AY.min }, { x: -1, y: AY.max }]),
    dash([{ x: 1, y: AY.min }, { x: 1, y: AY.max }]),
    dash([{ x: AX.min, y: 1.3 }, { x: AX.max, y: 1.3 }]),
    { label: "", data: geneLabels.map((g) => ({ x: g.px, y: g.py })), showLine: false, pointRadius: 4.8, pointBorderWidth: 0, pointBackgroundColor: geneLabels.map((g) => g.c === R ? "rgba(165,65,75,0.85)" : g.c === B ? "rgba(70,110,150,0.9)" : "rgba(85,85,85,0.9)") },
    dot(volcanoLegend[0], 0, pts(sigUp)),
    dot(volcanoLegend[1], 1, pts(sigDown)),
    dot(volcanoLegend[2], 2, [...pts(up), ...rows(upCoreRows)]),
    dot(volcanoLegend[3], 3, [...pts(down), ...rows(downCoreRows)]),
    dot(volcanoLegend[4], 4, pts(nonSig)),
  ] },
  plugins: [boxPlugin("#000", 4), volcanoLabels],
  options: { ...base, layout: layoutOf(aRect, aPlot, 116, 87, 54),
    plugins: { ...noPlug, title: { display: true, fullSize: false, text: "Volcano Plot: p-value<0.05 && |log2FC|>1", color: "#111", font: { family: SANS, size: 33.7, weight: "normal" }, padding: { top: 0, bottom: 13.5 } } },
    scales: {
      x: { type: "linear", ...AX, afterBuildTicks: (s) => { s.ticks = volcanoXTicks.map((value) => ({ value })); }, afterFit: (s) => { s.height = 87; },
        grid: { drawOnChartArea: false, tickLength: 8, tickColor: "#333", tickWidth: 2 }, border: { display: false },
        ticks: { color: "#4D4D4D", font: { family: SANS, size: 24.5 }, padding: 4, maxRotation: 0, autoSkip: false },
        title: { display: true, text: "log₂ FoldChange", color: "#000", font: { family: SANS, size: 37 }, padding: { top: 0, bottom: 2 } } },
      y: { type: "linear", ...AY, afterBuildTicks: (s) => { s.ticks = volcanoYTicks.map((value) => ({ value })); }, afterFit: (s) => { s.width = 116; },
        grid: { drawOnChartArea: false, tickLength: 8, tickColor: "#333", tickWidth: 2 }, border: { display: false },
        ticks: { color: "#4D4D4D", font: { family: SANS, size: 24.5 }, padding: 4, autoSkip: false },
        title: { display: true, text: "-log₁₀p-value", color: "#000", font: { family: SANS, size: 36 }, padding: { top: 0, bottom: 0 } } },
    } },
};

const HL = 2338, HR = 3343;
const colTreeRect = { x: HL, y: 50, w: HR - HL, h: 232 };
const colTreeConfig = {
  type: "scatter",
  data: { datasets: [{ data: colTree.flatMap(([a, ha, b, hb, h]) => [{ x: a, y: ha }, { x: a, y: h }, { x: b, y: h }, { x: b, y: hb }, { x: NaN, y: NaN }]), showLine: true, pointRadius: 0, borderColor: "#111", borderWidth: 3, borderJoinStyle: "miter", spanGaps: false }] },
  options: { ...base, layout: layoutOf(colTreeRect, { l: HL, r: HR, t: 57, b: 277 }), plugins: noPlug,
    scales: { x: { type: "linear", min: 0, max: 6, display: false }, y: { type: "linear", min: 0, max: 230, display: false } } },
};
const annotRect = { x: HL, y: 280, w: HR - HL, h: 43 };
const annotConfig = {
  type: "bar",
  data: { labels: sampleLabels, datasets: [{ data: sampleLabels.map(() => 1), backgroundColor: sampleGroups.map((g) => groupColors[g]), barPercentage: 1, categoryPercentage: 1 }] },
  options: { ...base, layout: { autoPadding: false }, plugins: noPlug, scales: { x: { display: false }, y: { display: false, min: 0, max: 1 } } },
};
const heatRect = { x: HL - 10, y: 330, w: HR - HL + 20, h: 1160 };
const heatConfig = {
  type: "bar",
  data: { labels: sampleLabels, datasets: C1.map((_, r) => ({ data: sampleLabels.map(() => 1), backgroundColor: heatColumns.map((col) => cmap(heatStops, col[r])), barPercentage: 1, categoryPercentage: 1, borderWidth: 0 })) },
  options: { ...base, layout: layoutOf(heatRect, { l: HL, r: HR, t: 335, b: 1370 }, 0, 100), plugins: noPlug,
    scales: {
      x: { stacked: true, afterFit: (s) => { s.height = 100; }, grid: { display: false }, border: { display: false },
        ticks: { minRotation: 45, maxRotation: 45, padding: 8, labelOffset: 12, color: "#000", font: { family: DEJA, size: 41, weight: "bold" } } },
      y: { stacked: true, display: false, reverse: true, min: 0, max: C1.length },
    } },
};
const rowTreeRect = { x: 2110, y: 335, w: HL - 2110, h: 1035 };
const rowTreeConfig = {
  type: "scatter",
  data: { datasets: [
    { data: rowTree.flatMap(([a, ha, b, hb, h]) => [{ x: ha, y: a }, { x: h, y: a }, { x: h, y: b }, { x: hb, y: b }, { x: NaN, y: NaN }]), showLine: true, pointRadius: 0, borderColor: "#111", borderWidth: 3, spanGaps: false },
    { data: leafReach.flatMap((h, i) => [{ x: h, y: i + .25 }, { x: 0, y: i + .25 }, { x: NaN, y: NaN }, { x: h * .8, y: i + .75 }, { x: 0, y: i + .75 }, { x: NaN, y: NaN }]), showLine: true, pointRadius: 0, borderColor: "#111", borderWidth: 2.6, spanGaps: false },
  ] },
  options: { ...base, layout: { autoPadding: false }, plugins: noPlug,
    scales: { x: { type: "linear", display: false, reverse: true, min: 0, max: 288 }, y: { type: "linear", display: false, reverse: true, min: 0, max: C1.length } } },
};
const heatBarRect = { x: 3365, y: 265, w: 141, h: 770 };
const heatBarConfig = {
  type: "bar",
  data: { labels: [""], datasets: [{ data: [[-2, 2]], backgroundColor: gradient(heatStops, -2, 2), barPercentage: 1, categoryPercentage: 1 }] },
  options: { ...base, layout: layoutOf(heatBarRect, { l: 3365, r: 3506, t: 335, b: 963 }), plugins: noPlug,
    scales: {
      x: { display: false },
      y: { position: "right", min: -2, max: 2, afterBuildTicks: (s) => { s.ticks = heatTicks.map((value) => ({ value })); }, afterFit: (s) => { s.width = 100; },
        grid: { display: false }, border: { display: false },
        ticks: { padding: 13, color: "#000", font: { family: DEJA, size: 41, weight: "bold" }, callback: (v) => (v < 0 ? "−" + Math.abs(v) : String(v)) } },
    } },
};

const vennRect = { x: 200, y: 1700, w: 1250, h: 920 };
const vennConfig = {
  type: "bubble",
  data: { datasets: [
    { label: vennSets[1], data: [{ x: 1, y: 0, r: 398 }], backgroundColor: "rgba(255,217,107,0.65)", borderWidth: 0, clip: false },
    { label: vennSets[0], data: [{ x: 0, y: 0, r: 400 }], backgroundColor: "#D5BCE0", borderWidth: 0, clip: false },
  ] },
  options: { ...base, layout: { autoPadding: false }, plugins: noPlug,
    scales: { x: { type: "linear", display: false, min: -1.224, max: 2.273 }, y: { type: "linear", display: false, min: -1, max: 1 } } },
};

function facetConfig(rect, plot, terms, score, p, count, yMin, yMax, last, title) {
  const yW = 720, xH = last ? 104 : 0, titleH = title ? 60 : 0;
  return {
    type: "scatter",
    data: { datasets: [{ data: score.map((x, i) => ({ x, y: i })), showLine: false, pointBorderWidth: 0, pointRadius: count.map(geneRadius), pointBackgroundColor: p.map((v) => cmap(pStops, v)), clip: false }] },
    plugins: [boxPlugin("#222", 4)],
    options: { ...base, layout: layoutOf(rect, plot, yW, xH, titleH),
      plugins: { ...noPlug, title: title ? { display: true, fullSize: false, text: title, color: "#222", font: { family: SANS, size: 42, weight: "normal" }, padding: { top: 0, bottom: 9.6 } } : { display: false } },
      scales: {
        x: { type: "linear", min: 0, max: 15, afterBuildTicks: (s) => { s.ticks = keggXTicks.map((value) => ({ value })); }, afterFit: (s) => { s.height = xH; },
          border: { display: false },
          grid: { color: (c) => (c.tick && c.tick.value % 3 === 0 ? "#E6E6E6" : "#F1F1F1"), lineWidth: (c) => (c.tick && c.tick.value % 3 === 0 ? 2 : 1.5), drawTicks: !!last, tickLength: 8, tickColor: (c) => (c.tick && c.tick.value % 3 === 0 ? "#333" : "rgba(0,0,0,0)") },
          ticks: last ? { display: true, padding: 8, maxRotation: 0, autoSkip: false, color: "#111", font: { family: SANS, size: 33.5 }, callback: (v) => (v % 3 === 0 ? String(v) : "") } : { display: false },
          title: last ? { display: true, text: "Enrichment Score", color: "#222", font: { family: SANS, size: 34 }, padding: { top: 0, bottom: 0 } } : { display: false } },
        y: { type: "linear", reverse: true, min: yMin, max: yMax, afterBuildTicks: (s) => { s.ticks = terms.map((_, value) => ({ value })); }, afterFit: (s) => { s.width = yW; },
          border: { display: false },
          grid: { color: "#EBEBEB", lineWidth: 3, tickLength: 10, tickColor: "#333" },
          ticks: { padding: 12, autoSkip: false, color: "#111", font: { family: SANS, size: 34.7 }, callback: (v) => terms[v] } },
      } },
  };
}
const DL = 2464, DR = 3322;
const f1Rect = { x: 1700, y: 1590, w: 1660, h: 260 }, f1Plot = { l: DL, r: DR, t: 1672, b: 1758 };
const f2Rect = { x: 1700, y: 1750, w: 1660, h: 930 }, f2Plot = { l: DL, r: DR, t: 1824, b: 2606 };
const f3Rect = { x: 1700, y: 2600, w: 1660, h: 320 }, f3Plot = { l: DL, r: DR, t: 2672, b: 2845 };
const f4Rect = { x: 1700, y: 2840, w: 1660, h: 540 }, f4Plot = { l: DL, r: DR, t: 2910, b: 3259 };
const f1 = facetConfig(f1Rect, f1Plot, geneIPTerms, geneIPScore, geneIPP, geneIPCount, -.48, .48, false, "Top  of  KEGG Enrichment");
const f2 = facetConfig(f2Rect, f2Plot, orgaTerms, orgaScore, orgaP, orgaCount, -.4, 8.4);
const f3 = facetConfig(f3Rect, f3Plot, cellTerms, cellScore, cellP, cellCount, -.2, 1.2);
const f4 = facetConfig(f4Rect, f4Plot, envTerms, envScore, envP, envCount, -.15, 3.15, true);

const geneRect = { x: 3400, y: 2020, w: 150, h: 500 };
const geneConfig = {
  type: "scatter",
  data: { datasets: [{ data: legendGenes.map((_, i) => ({ x: .5, y: i })), showLine: false, pointBorderWidth: 0, pointRadius: legendGenes.map(geneRadius), pointBackgroundColor: "#000" }] },
  options: { ...base, layout: layoutOf(geneRect, { l: 3400, r: 3550, t: 2089, b: 2452 }), plugins: noPlug,
    scales: {
      x: { type: "linear", min: 0, max: 1, display: false },
      y: { type: "linear", reverse: true, position: "right", min: -.3, max: 2.3, afterBuildTicks: (s) => { s.ticks = legendGenes.map((_, value) => ({ value })); }, afterFit: (s) => { s.width = 50; },
        grid: { display: false }, border: { display: false },
        ticks: { padding: 7, color: "#222", font: { family: SANS, size: 26 }, callback: (v) => String(legendGenes[v]) } },
    } },
};
const pBarRect = { x: 3393, y: 2470, w: 190, h: 510 };
const pBarConfig = {
  type: "bar",
  data: { labels: [""], datasets: [{ data: [[.0012, .0777]], backgroundColor: gradient(pStops, .0012, .0777), barPercentage: 1, categoryPercentage: 1 }] },
  options: { ...base, layout: layoutOf(pBarRect, { l: 3393, r: 3583, t: 2537, b: 2907 }), plugins: noPlug,
    scales: {
      x: { display: false },
      y: { position: "right", min: .0012, max: .0777, afterBuildTicks: (s) => { s.ticks = pTicks.map((value) => ({ value })); }, afterFit: (s) => { s.width = 99; },
        grid: { display: false }, border: { display: false },
        ticks: { padding: 13, color: "#222", font: { family: SANS, size: 33 }, callback: (v) => v.toFixed(2) } },
    } },
};

/* ---------- components ---------- */
function Plot({ rect, config }) {
  const ref = useRef(null);
  useEffect(() => {
    const c = new Chart(ref.current, config);
    return () => c.destroy();
  }, []);
  return <canvas ref={ref} width={rect.w} height={rect.h} style={{ position: "absolute", left: rect.x, top: rect.y, width: rect.w, height: rect.h }} />;
}
function T({ x, y, s, f = SANS, w = "normal", c = "#000", a = "center", r = 0, children }) {
  const tx = a === "center" ? "-50%" : "0";
  return <div style={{ position: "absolute", left: x, top: y, fontFamily: f, fontSize: s, fontWeight: w, color: c, lineHeight: 1, whiteSpace: "pre", transform: `translate(${tx},-50%) rotate(${r}deg)` }}>{children}</div>;
}
const Strip = ({ y0, y1 }) => <div style={{ position: "absolute", left: 3324, top: y0, width: 43, height: y1 - y0, background: "#D2D2D2" }} />;

export default function App() {
  return (
    <div style={{ position: "absolute", left: 0, top: 0, width: 3787, height: 3384, background: "#fff", overflow: "hidden" }}>
      <T x={57} y={66} s={76} f="Lato" w={700}>A</T>
      <T x={1940} y={66} s={76} f="Lato" w={700}>B</T>
      <T x={55} y={1606} s={76} f="Lato" w={700}>C</T>
      <T x={1942} y={1606} s={76} f="Lato" w={700}>D</T>

      <Plot rect={aRect} config={volcanoConfig} />

      <Plot rect={colTreeRect} config={colTreeConfig} />
      <Plot rect={annotRect} config={annotConfig} />
      <Plot rect={heatRect} config={heatConfig} />
      <Plot rect={rowTreeRect} config={rowTreeConfig} />
      <Plot rect={heatBarRect} config={heatBarConfig} />
      <T x={3357} y={302} s={41} f={DEJA} w="bold" a="left">Group</T>
      <T x={3503} y={352} s={41} f={DEJA} w="bold" a="left">Group</T>
      <div style={{ position: "absolute", left: 3503, top: 380, width: 60, height: 60, background: groupColors.Control }} />
      <div style={{ position: "absolute", left: 3503, top: 440, width: 60, height: 60, background: groupColors.Res }} />
      <T x={3576} y={411} s={41} f={DEJA} w="bold" a="left">Control</T>
      <T x={3576} y={472} s={41} f={DEJA} w="bold" a="left">Res</T>

      <Plot rect={vennRect} config={vennConfig} />
      <T x={497} y={1691} s={86} f="Lato" w={700}>{vennSets[0]}</T>
      <T x={1128} y={1691} s={86} f="Lato" w={700}>{vennSets[1]}</T>
      <T x={437} y={2164} s={72} f="'Liberation Serif'">{vennCounts[0]}</T>
      <T x={821} y={2164} s={72} f="'Liberation Serif'">{vennCounts[1]}</T>
      <T x={1178} y={2164} s={72} f="'Liberation Serif'">{vennCounts[2]}</T>

      <Strip y0={1696} y1={1735} />
      <Strip y0={1776} y1={2654} />
      <Strip y0={2675} y1={2840} />
      <Strip y0={2899} y1={3269} />
      <Plot rect={f1Rect} config={f1} />
      <Plot rect={f2Rect} config={f2} />
      <Plot rect={f3Rect} config={f3} />
      <Plot rect={f4Rect} config={f4} />
      <T x={3348} y={1715} s={35} c="#333" r={90}>GeneIP.</T>
      <T x={3348} y={2213} s={35} c="#333" r={90}>Orga S.</T>
      <T x={3348} y={2759} s={35} c="#333" r={90}>Cell P.</T>
      <T x={3348} y={3083} s={35} c="#333" r={90}>EnvIP.</T>
      <T x={3393} y={2044} s={35} c="#222" a="left">GeneNumber</T>
      <Plot rect={geneRect} config={geneConfig} />
      <T x={3393} y={2506} s={32} c="#222" a="left">p-value</T>
      <Plot rect={pBarRect} config={pBarConfig} />
    </div>
  );
}
